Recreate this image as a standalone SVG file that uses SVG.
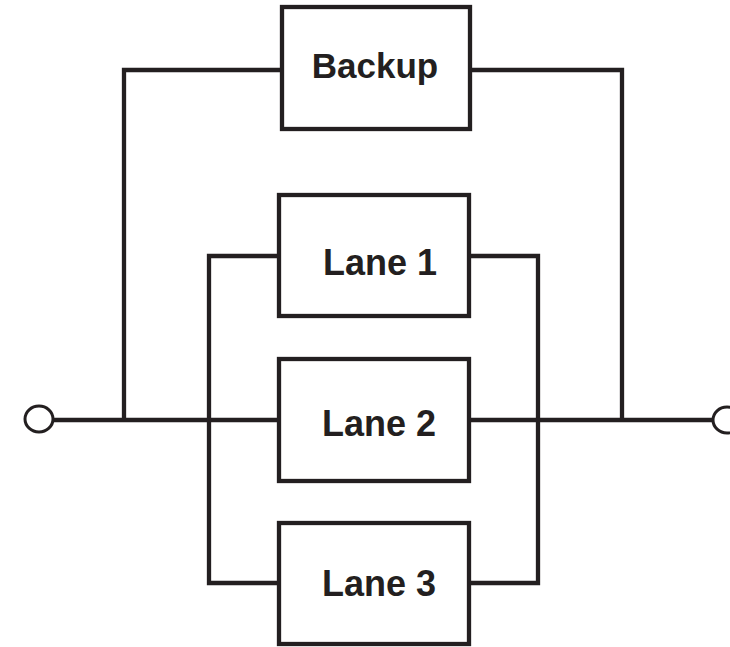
<svg xmlns="http://www.w3.org/2000/svg" width="730" height="647" viewBox="0 0 730 647">
<style>
.box{fill:#fff;stroke:#231f20;stroke-width:4.3}
.wire{fill:none;stroke:#231f20;stroke-width:4.3;stroke-linejoin:miter;stroke-linecap:butt}
.term{fill:#fff;stroke:#231f20;stroke-width:3}
.lbl{font-family:"Liberation Sans",Arial,sans-serif;font-weight:bold;font-size:36px;fill:#231f20;text-anchor:middle}
</style>
<rect width="730" height="647" fill="#fff"/>
<g id="connectors">
<path class="wire" d="M52,420 H279"/>
<path class="wire" d="M469,420 H713"/>
<path class="wire" d="M124,420 V70 H282"/>
<path class="wire" d="M470,70 H622 V420"/>
<path class="wire" d="M279,256 H209 V583 H279"/>
<path class="wire" d="M469,256 H538 V583 H469"/>
</g>
<g id="in"><ellipse class="term" cx="39" cy="419" rx="14" ry="13"/></g>
<g id="out"><ellipse class="term" cx="727" cy="420" rx="14" ry="13"/></g>
<g id="backup"><rect class="box" x="282" y="7" width="188" height="122"/><text class="lbl" x="375" y="78" style="font-size:35px">Backup</text></g>
<g id="lane1"><rect class="box" x="279" y="195" width="190" height="121"/><text class="lbl" x="380" y="275">Lane 1</text></g>
<g id="lane2"><rect class="box" x="279" y="359" width="190" height="122"/><text class="lbl" x="379" y="436">Lane 2</text></g>
<g id="lane3"><rect class="box" x="279" y="523" width="190" height="121"/><text class="lbl" x="379" y="596">Lane 3</text></g>
</svg>
